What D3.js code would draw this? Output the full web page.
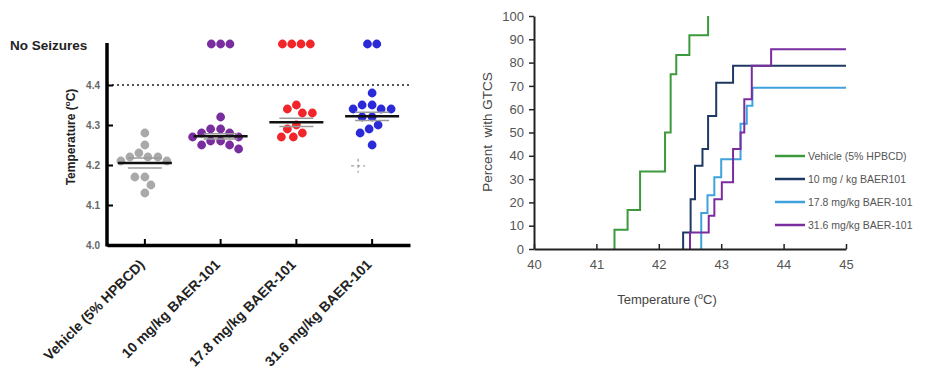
<!DOCTYPE html>
<html>
<head>
<meta charset="utf-8">
<script src="https://cdn.jsdelivr.net/npm/d3@7/dist/d3.min.js"></script>
<style>
  body { margin: 0; background: #fff; }
  svg { font-family: Arial, "Liberation Sans", sans-serif; }
</style>
</head>
<body>
<svg id="chart" width="926" height="371"></svg>
<script>
// left panel: seizure threshold per animal
const groups = ['Vehicle (5% HPBCD)', '10 mg/kg BAER-101', '17.8 mg/kg BAER-101', '31.6 mg/kg BAER-101'];
const vehicleTemps = [4.28, 4.25, 4.22, 4.22, 4.22, 4.23, 4.21, 4.21, 4.17, 4.17, 4.15, 4.13];
const dose10Temps = [4.32, 4.29, 4.29, 4.28, 4.28, 4.27, 4.27, 4.26, 4.26, 4.25, 4.25, 4.24];
const dose178Temps = [4.35, 4.34, 4.33, 4.33, 4.30, 4.29, 4.28, 4.27, 4.27];
const dose316Temps = [4.38, 4.35, 4.35, 4.34, 4.34, 4.34, 4.32, 4.32, 4.30, 4.29, 4.28, 4.25];
const noSeizureCounts = [0, 3, 4, 2];
const dotColors = ['#a9a9a9', '#7a2d9e', '#f2262a', '#2a2ad8'];
const tempTicks = [4.0, 4.1, 4.2, 4.3, 4.4];
const thresholdLine = 4.4;
const noSeizureLevel = 4.5;
const strayMark = { group: 3, value: 4.198 };

// right panel: cumulative percent with GTCS
const curveNames = ['Vehicle (5% HPBCD)', '10 mg / kg BAER101', '17.8 mg/kg BAER-101', '31.6 mg/kg BAER-101'];
const vehicleSteps = [[41.29, 8.3], [41.50, 16.7], [41.70, 33.3], [42.10, 50], [42.19, 75], [42.28, 83.3], [42.49, 91.7], [42.79, 100]];
const dose10Steps = [[42.39, 7.1], [42.51, 21.4], [42.58, 35.7], [42.70, 42.9], [42.79, 57.1], [42.92, 71.4], [43.19, 78.6]];
const dose178Steps = [[42.68, 15.4], [42.78, 23.1], [42.89, 30.8], [43.00, 38.5], [43.31, 53.8], [43.41, 61.5], [43.50, 69.2]];
const dose316Steps = [[42.50, 7.1], [42.80, 14.3], [42.89, 21.4], [43.01, 28.6], [43.19, 42.9], [43.31, 50], [43.37, 64.3], [43.49, 78.6], [43.80, 85.7]];
const curveColors = ['#3c9a3c', '#1f3a62', '#3fa2dc', '#7a2d9e'];
const extendToEnd = [false, true, true, true];
const degTicks = [40, 41, 42, 43, 44, 45];
const pctTicks = [0, 10, 20, 30, 40, 50, 60, 70, 80, 90, 100];

const svg = d3.select('#chart');

// ---------- left panel ----------
const allTemps = [vehicleTemps, dose10Temps, dose178Temps, dose316Temps];
const x = d3.scaleBand().domain(groups).range([107, 410]);
const y = d3.scaleLinear().domain([4.0, 4.5]).range([245, 45]);
const r = 4.4;

// simple deterministic swarm: nudge sideways until no overlap
function swarm(values) {
  const placed = [];
  const order = values.map((v, i) => i).sort((a, b) => values[b] - values[a]);
  const out = new Array(values.length);
  order.forEach(i => {
    const py = y(values[i]);
    let k = 0, dx = 0;
    while (true) {
      dx = (k % 2 === 0 ? 1 : -1) * Math.ceil(k / 2);
      const hit = placed.some(p => (p.x - dx) ** 2 + (p.y - py) ** 2 < (2 * r + 1) ** 2);
      if (!hit) break;
      k++;
    }
    placed.push({ x: dx, y: py });
    out[i] = dx;
  });
  return out;
}

const left = svg.append('g');

left.append('line')
  .attr('x1', x.range()[0]).attr('x2', x.range()[1])
  .attr('y1', y(thresholdLine)).attr('y2', y(thresholdLine))
  .attr('stroke', '#555').attr('stroke-width', 2)
  .attr('stroke-dasharray', '2,3');

allTemps.forEach((vals, gi) => {
  const cx = x(groups[gi]) + x.bandwidth() / 2;
  const offs = swarm(vals);
  const g = left.append('g');
  g.selectAll('circle').data(vals).join('circle')
    .attr('cx', (d, i) => cx + offs[i])
    .attr('cy', d => y(d))
    .attr('r', r)
    .attr('fill', dotColors[gi]);

  const mean = d3.mean(vals);
  const sem = d3.deviation(vals) / Math.sqrt(vals.length);
  [mean - sem, mean + sem].forEach(v => {
    g.append('line')
      .attr('x1', cx - 17).attr('x2', cx + 17)
      .attr('y1', y(v)).attr('y2', y(v))
      .attr('stroke', '#9a9a9a').attr('stroke-width', 1.5);
  });
  g.append('line')
    .attr('x1', cx - 27).attr('x2', cx + 27)
    .attr('y1', y(mean)).attr('y2', y(mean))
    .attr('stroke', '#111').attr('stroke-width', 2.5);

  // animals that never seized
  const n = noSeizureCounts[gi];
  const spacing = 9.3;
  g.selectAll('circle.ns').data(d3.range(n)).join('circle')
    .attr('class', 'ns')
    .attr('cx', i => cx + (i - (n - 1) / 2) * spacing)
    .attr('cy', y(noSeizureLevel) - 1)
    .attr('r', r)
    .attr('fill', dotColors[gi]);
});

// faint dashed cross under the 31.6 group
{
  const cx = x(groups[strayMark.group]) + x.bandwidth() / 2 - 14;
  const cy = y(strayMark.value);
  left.append('path')
    .attr('d', `M${cx - 7},${cy}H${cx + 7}M${cx},${cy - 7}V${cy + 7}`)
    .attr('stroke', '#a0a0a0').attr('stroke-width', 1.3)
    .attr('stroke-dasharray', '3,3').attr('fill', 'none');
}

const yAxisL = left.append('g')
  .attr('transform', `translate(${x.range()[0]},0)`)
  .call(d3.axisLeft(y).tickValues(tempTicks).tickFormat(d3.format('.1f'))
    .tickSizeInner(-6).tickSizeOuter(0).tickPadding(7));
yAxisL.select('.domain').attr('stroke', '#000').attr('stroke-width', 3.5)
  .attr('d', `M0,${y.range()[0] + 1.5}V${y(noSeizureLevel) - 2}`);
yAxisL.selectAll('.tick line').attr('stroke', '#000').attr('stroke-width', 2);
yAxisL.selectAll('.tick text').attr('font-size', 10).attr('font-weight', 'bold').attr('fill', '#666');

const xAxisL = left.append('g')
  .attr('transform', `translate(0,${y.range()[0]})`)
  .call(d3.axisBottom(x).tickSizeInner(-6).tickSizeOuter(0));
xAxisL.select('.domain').attr('stroke', '#000').attr('stroke-width', 3.5);
xAxisL.selectAll('.tick line').attr('stroke', '#000').attr('stroke-width', 2);
xAxisL.selectAll('.tick text')
  .attr('font-size', 14).attr('font-weight', 'bold').attr('fill', '#222')
  .attr('text-anchor', 'end')
  .attr('y', 0).attr('dy', '0.35em')
  .attr('transform', 'translate(-3,17) rotate(-45)');

left.append('text')
  .attr('x', 10).attr('y', 50)
  .attr('font-size', 13.5).attr('font-weight', 'bold').attr('fill', '#222')
  .text('No Seizures');

const yTitleL = left.append('text')
  .attr('transform', 'translate(75,137) rotate(-90)')
  .attr('text-anchor', 'middle')
  .attr('font-size', 12).attr('font-weight', 'bold').attr('fill', '#222');
yTitleL.append('tspan').text('Temperature (');
yTitleL.append('tspan').attr('font-size', 8).attr('dy', -5).text('o');
yTitleL.append('tspan').attr('dy', 5).text('C)');

// ---------- right panel ----------
const allSteps = [vehicleSteps, dose10Steps, dose178Steps, dose316Steps];
const tx = d3.scaleLinear().domain([40, 45]).range([534, 846]);
const py = d3.scaleLinear().domain([0, 100]).range([249, 16]);

const right = svg.append('g');

const stepLine = d3.line()
  .x(d => tx(d[0])).y(d => py(d[1]))
  .curve(d3.curveStepAfter);

allSteps.forEach((steps, i) => {
  const pts = [[steps[0][0], 0], ...steps];
  if (extendToEnd[i]) pts.push([tx.domain()[1], steps[steps.length - 1][1]]);
  right.append('path')
    .attr('d', stepLine(pts))
    .attr('fill', 'none')
    .attr('stroke', curveColors[i])
    .attr('stroke-width', 2);
});

const xAxisR = right.append('g')
  .attr('transform', `translate(0,${py(0)})`)
  .call(d3.axisBottom(tx).tickValues(degTicks).tickFormat(d3.format('d'))
    .tickSizeInner(-5).tickSizeOuter(0).tickPadding(11));
const yAxisR = right.append('g')
  .attr('transform', `translate(${tx(40)},0)`)
  .call(d3.axisLeft(py).tickValues(pctTicks).tickFormat(d3.format('d'))
    .tickSizeInner(5).tickSizeOuter(0).tickPadding(5));
[xAxisR, yAxisR].forEach(a => {
  a.select('.domain').attr('stroke', '#222').attr('stroke-width', 2);
  a.selectAll('.tick line').attr('stroke', '#222').attr('stroke-width', 1.5);
  a.selectAll('.tick text').attr('font-size', 13).attr('fill', '#555');
});

const xTitleR = right.append('text')
  .attr('x', 667).attr('y', 304)
  .attr('text-anchor', 'middle')
  .attr('font-size', 13).attr('fill', '#444');
xTitleR.append('tspan').text('Temperature (');
xTitleR.append('tspan').attr('font-size', 9).attr('dy', -5).text('o');
xTitleR.append('tspan').attr('dy', 5).text('C)');

right.append('text')
  .attr('transform', 'translate(492,132) rotate(-90)')
  .attr('text-anchor', 'middle')
  .attr('font-size', 13.5).attr('fill', '#444')
  .attr('xml:space', 'preserve')
  .text('Percent  with GTCS');

const legend = right.append('g').attr('transform', 'translate(775,156)');
curveNames.forEach((name, i) => {
  const row = legend.append('g').attr('transform', `translate(0,${i * 23})`);
  row.append('line').attr('x1', 0).attr('x2', 30).attr('y1', 0).attr('y2', 0)
    .attr('stroke', curveColors[i]).attr('stroke-width', 2.5);
  row.append('text').attr('x', 33).attr('y', 0).attr('dy', '0.35em')
    .attr('font-size', 10.5).attr('fill', '#555').text(name);
});
</script>
</body>
</html>
